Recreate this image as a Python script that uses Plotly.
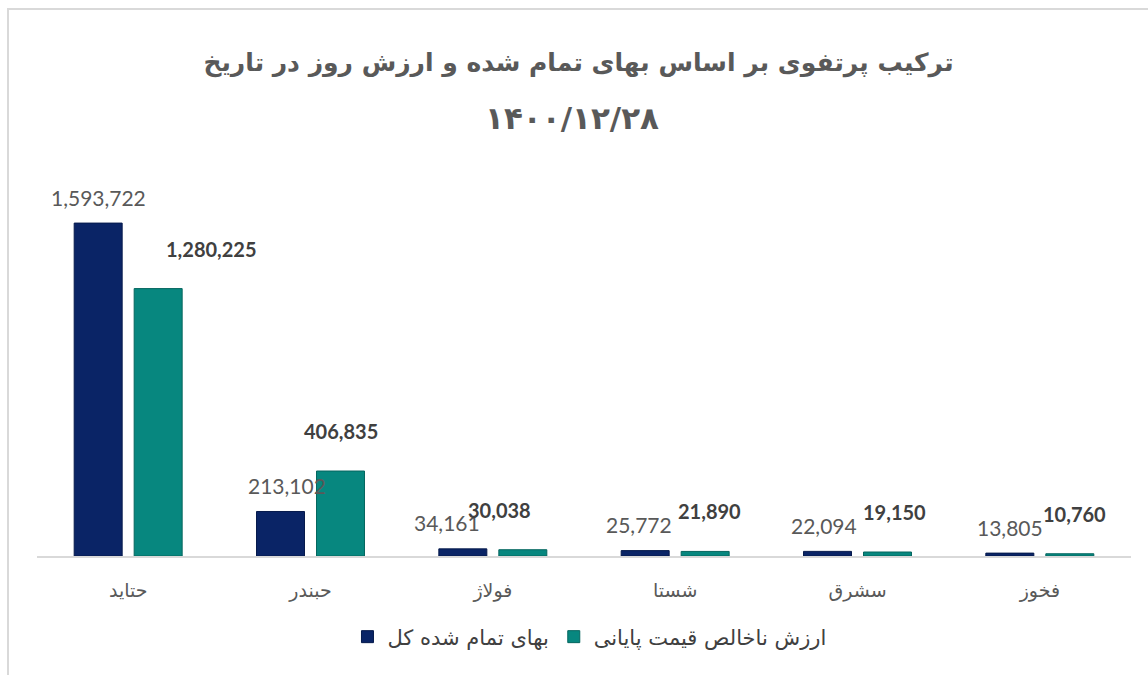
import plotly.graph_objects as go

categories = ["حتاید", "حبندر", "فولاژ", "شستا", "سشرق", "فخوز"]
cost_values = [1593722, 213102, 34161, 25772, 22094, 13805]
market_values = [1280225, 406835, 30038, 21890, 19150, 10760]
series_names = ["بهای تمام شده کل", "ارزش ناخالص قیمت پایانی"]
title_line1 = "ترکیب پرتفوی بر اساس بهای تمام شده و ارزش روز در تاریخ"
title_line2 = "۱۴۰۰/۱۲/۲۸"

# label style offsets (pixels)
navy_dx = [0, 6, -16, -6, -4, 0]
teal_dx = [53, 0, -23, 4, 7, 5]

NAVY = "#0a2466"
TEAL = "#07877f"
W, H = 1148, 675
L, R, T, B = 37, 17, 180, 119

fig = go.Figure()
fig.add_trace(go.Bar(x=categories, y=cost_values, name=series_names[0],
                     marker=dict(color=NAVY, line=dict(color="#061a4c", width=1))))
fig.add_trace(go.Bar(x=categories, y=market_values, name=series_names[1],
                     marker=dict(color=TEAL, line=dict(color="#05665f", width=1))))

annotations = []
for i, c in enumerate(categories):
    annotations.append(dict(x=c, y=cost_values[i], xref="x", yref="y",
                            text=f"{cost_values[i]:,}", showarrow=False,
                            xshift=-30 + navy_dx[i], yshift=26, yanchor="middle",
                            font=dict(family="Lato", size=21, color="#595959")))
    annotations.append(dict(x=c, y=market_values[i], xref="x", yref="y",
                            text=f"<b>{market_values[i]:,}</b>", showarrow=False,
                            xshift=30 + teal_dx[i], yshift=40, yanchor="middle",
                            font=dict(family="Lato", size=20, color="#404040")))

plot_h = H - T - B
annotations.append(dict(x=0.5, y=(H - B - 118) / plot_h, xref="paper", yref="paper",
                        text=f"<b>{title_line2}</b>", showarrow=False, yanchor="middle",
                        xshift=-12,
                        font=dict(family="DejaVu Sans", size=31, color="#595959")))

plot_w = W - L - R
fig.update_layout(
    width=W, height=H,
    margin=dict(l=L, r=R, t=T, b=B),
    paper_bgcolor="white", plot_bgcolor="white",
    barmode="group", bargap=0.342, bargroupgap=0.2,
    title=dict(text=f"<b>{title_line1}</b>", x=0.495, xanchor="center",
               xref="paper", y=1 - 62 / H, yref="container", yanchor="middle",
               font=dict(family="DejaVu Sans", size=25, color="#595959")),
    legend=dict(orientation="h", x=0.505, xanchor="center",
                y=(H - B - 637) / plot_h, yanchor="middle",
                font=dict(family="DejaVu Sans", size=21, color="#404040"),
                itemclick=False),
    xaxis=dict(showline=True, linecolor="#d9d9d9", linewidth=2, ticks="",
               ticklabelstandoff=16,
               tickfont=dict(family="DejaVu Sans", size=19, color="#595959")),
    yaxis=dict(range=[0, 1800000], visible=False, showgrid=False),
    annotations=annotations,
    shapes=[dict(type="rect", xref="paper", yref="paper",
                 x0=(8 - L) / plot_w, x1=1.2,
                 y0=-0.6, y1=(H - B - 9) / plot_h,
                 line=dict(color="#d9d9d9", width=2))],
    showlegend=True,
)

fig.write_html("out.html", config={"displayModeBar": False},
               post_script="document.body.style.margin='0';")
